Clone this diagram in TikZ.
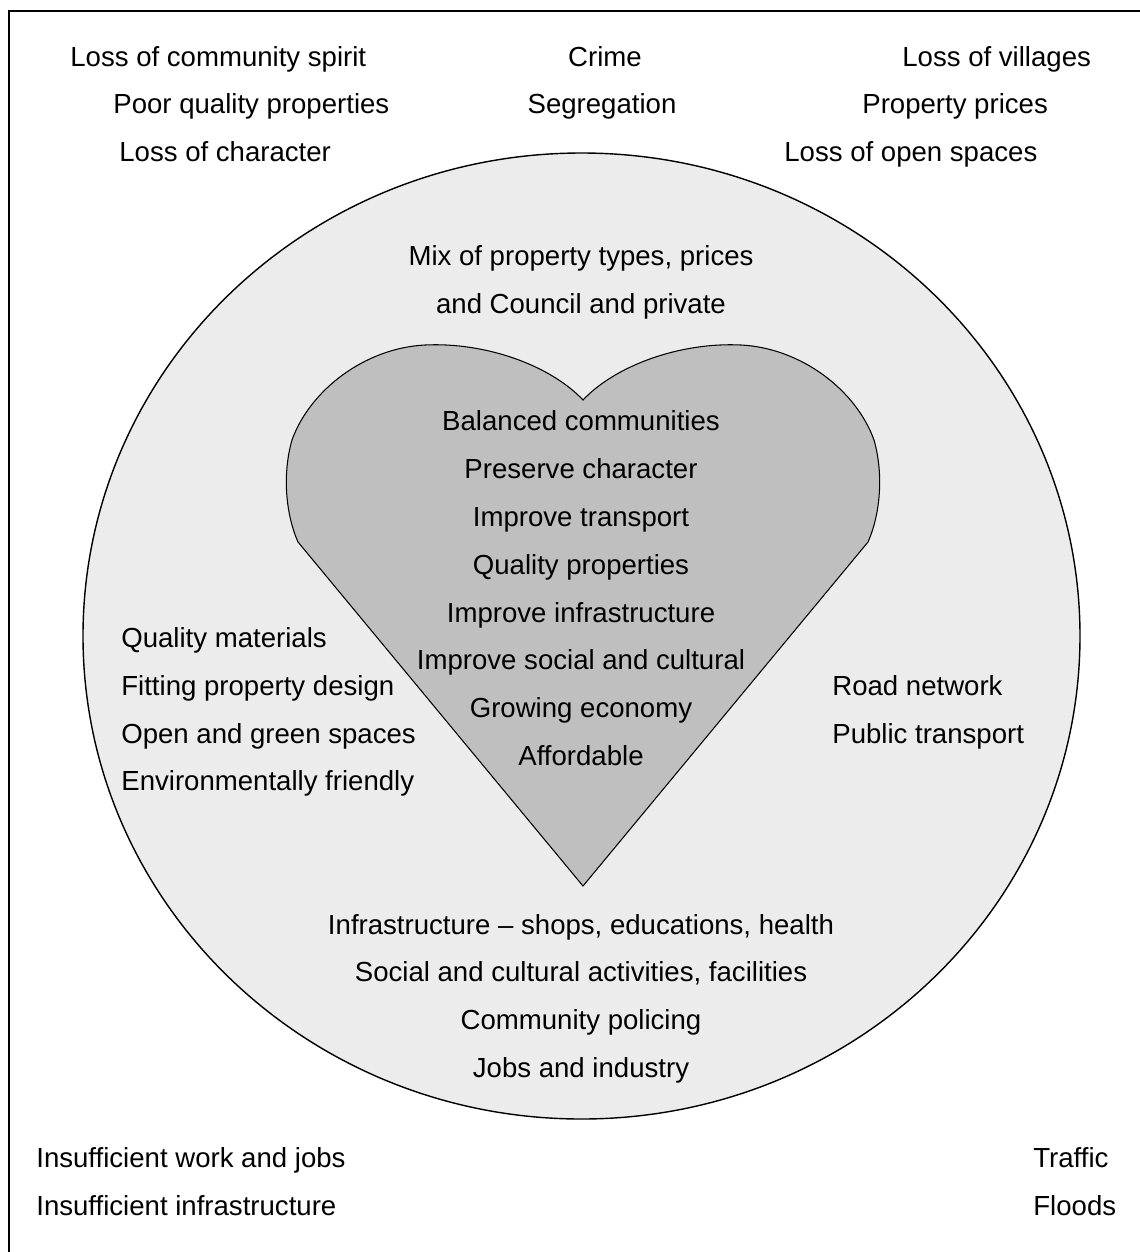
\documentclass[tikz,border=0pt]{standalone}
\usepackage{fontspec}
\setmainfont{Liberation Sans}
\tikzset{
    issue/.style={inner sep=0pt, anchor=west, text height=13.5pt, text depth=3.3pt, font=\fontsize{15.7}{18}\selectfont},
    item/.style={inner sep=0pt, text height=13.5pt, text depth=3.3pt, font=\fontsize{15.7}{18}\selectfont},
}
\begin{document}
\begin{tikzpicture}[x=0.02cm, y=-0.02cm]
                \useasboundingbox (0,0) rectangle (1140,1252);
                \draw[line width=1.1pt] (9,11) rectangle (1160,1270);

                % outer ring
                \draw[fill=gray!15, line width=0.8pt] (581.5,636) ellipse (498.5 and 483);

                % heart
                \draw[fill=black!25, line width=0.6pt] (583,400)
                    .. controls (550,365) and (485,342) .. (425,345)
                    .. controls (365,348) and (310,390) .. (292,440)
                    .. controls (282,475) and (286,515) .. (298,542)
                    -- (583,886)
                    -- (868,542)
                    .. controls (880,515) and (884,475) .. (874,440)
                    .. controls (856,390) and (801,348) .. (741,345)
                    .. controls (681,342) and (616,365) .. (583,400) -- cycle;

                % threats outside the ring
                \node[issue] (spirit) at (70,58) {Loss of community spirit};
                \node[issue] (poor) at (113,105) {Poor quality properties};
                \node[issue] (character) at (119,153) {Loss of character};
                \node[item] (crime) at (605,58) {Crime};
                \node[item] (segregation) at (602,105) {Segregation};
                \node[issue] (villages) at (902,58) {Loss of villages};
                \node[issue] (prices) at (862,105) {Property prices};
                \node[issue] (openspaces) at (784,153) {Loss of open spaces};
                \node[issue] (work) at (36,1159) {Insufficient work and jobs};
                \node[issue] (infra) at (36,1207) {Insufficient infrastructure};
                \node[issue] (traffic) at (1033,1159) {Traffic};
                \node[issue] (floods) at (1033,1207) {Floods};

                % ring contents
                \node[item] (mix) at (581,257) {Mix of property types, prices};
                \node[item] (council) at (581,305) {and Council and private};

                \node[issue] (materials) at (121,639) {Quality materials};
                \node[issue] (design) at (121,687) {Fitting property design};
                \node[issue] (green) at (121,735) {Open and green spaces};
                \node[issue] (friendly) at (121,782) {Environmentally friendly};

                \node[issue] (road) at (832,687) {Road network};
                \node[issue] (public) at (832,735) {Public transport};

                \node[item] (shops) at (581,926) {Infrastructure -- shops, educations, health};
                \node[item] (social) at (581,973) {Social and cultural activities, facilities};
                \node[item] (policing) at (581,1021) {Community policing};
                \node[item] (jobs) at (581,1069) {Jobs and industry};

                % heart contents
                \node[item] (balanced) at (581,422) {Balanced communities};
                \node[item] (preserve) at (581,470) {Preserve character};
                \node[item] (transport) at (581,518) {Improve transport};
                \node[item] (quality) at (581,566) {Quality properties};
                \node[item] (improve) at (581,614) {Improve infrastructure};
                \node[item] (cultural) at (581,661) {Improve social and cultural};
                \node[item] (economy) at (581,709) {Growing economy};
                \node[item] (affordable) at (581,757) {Affordable};

            \end{tikzpicture}
\end{document}
